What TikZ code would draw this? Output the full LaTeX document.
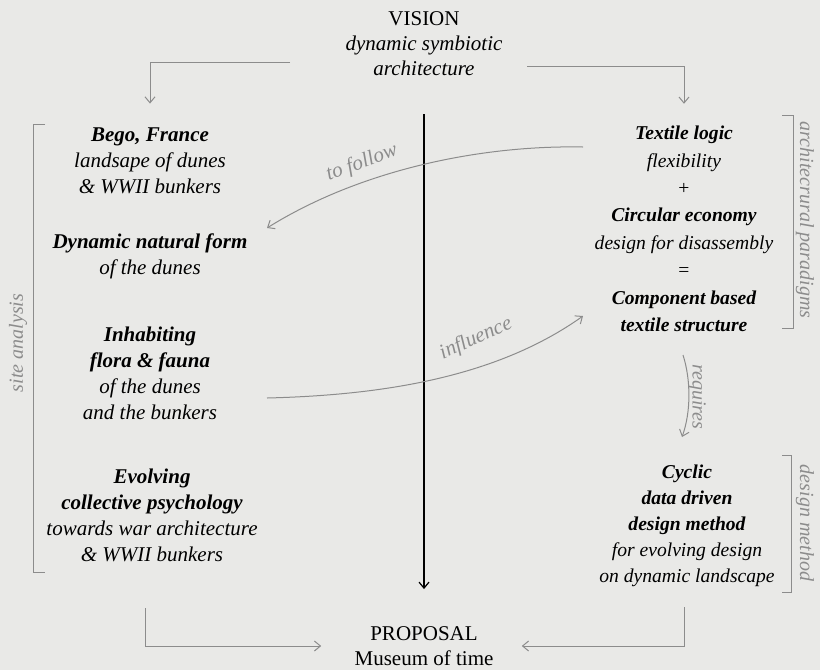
\documentclass[tikz,border=0pt]{standalone}
\usepackage{fontspec}
\setmainfont{Liberation Serif}
\usetikzlibrary{positioning}
\usetikzlibrary{arrows.meta}
\tikzset{>={Straight Barb[length=3pt,width=5pt]}}
\definecolor{paper}{RGB}{233,233,231}
\definecolor{pencil}{RGB}{140,140,140}
\tikzset{
  block/.style={align=center,font=\fontsize{10.5}{13}\selectfont\itshape,inner sep=2pt},
  narrow/.style={block,font=\fontsize{9.8}{13}\selectfont\itshape},
  plain/.style={align=center,font=\fontsize{10.5}{12.5}\selectfont,inner sep=2pt},
  link/.style={draw=pencil,line width=0.5pt},
  tag/.style={text=pencil,font=\fontsize{10}{12}\selectfont\itshape,inner sep=1pt}
}

\begin{document}
\begin{tikzpicture}[x=0.5pt,y=-0.5pt]
	\fill[paper] (0,0) rectangle (820,670);
	\useasboundingbox (0,0) rectangle (820,670);
	% vision and proposal
	\node[plain] (vision) at (424,44) {VISION\\\textit{dynamic symbiotic}\\\textit{architecture}};
	\node[plain] (proposal) at (424,646) {PROPOSAL\\Museum of time};
	% site analysis
	\node[block] (bego) at (150,161) {\textbf{Bego, France}\\landsape of dunes\\\& WWII bunkers};
	\node[block] (form) at (150,256) {\textbf{Dynamic natural form}\\of the dunes};
	\node[block] (flora) at (150,373) {\textbf{Inhabiting}\\\textbf{flora \& fauna}\\of the dunes\\and the bunkers};
	\node[block] (psych) at (152,515) {\textbf{Evolving}\\\textbf{collective psychology}\\towards war architecture\\\& WWII bunkers};
	% paradigms and method
	\node[narrow,font=\fontsize{9.8}{13.7}\selectfont\itshape] (textile) at (684,229) {\textbf{Textile logic}\\flexibility\\{\upshape+}\\\textbf{Circular economy}\\design for disassembly\\{\upshape=}\\\textbf{Component based}\\\textbf{textile structure}};
	\node[narrow] (method) at (687,526) {\textbf{Cyclic}\\\textbf{data driven}\\\textbf{design method}\\for evolving design\\on dynamic landscape};
	% brackets
	\draw[link] (45,124) -- (33,124) -- (33,572) -- (45,572);
	\node[tag,rotate=90] (site) at (18,343) {site analysis};
	\draw[link] (782,115) -- (793,115) -- (793,328) -- (782,328);
	\node[tag,rotate=-90] (para) at (805,220) {architecrural paradigms};
	\draw[link] (782,455) -- (791,455) -- (791,592) -- (782,592);
	\node[tag,rotate=-90] (dm) at (805,523) {design method};
	% connectors
	\coordinate (vl) at (290,62);
	\coordinate (vr) at (527,66);
	\coordinate (bl) at (145,608);
	\coordinate (br) at (684,607);
	\coordinate (fs) at (583,147);
	\coordinate (fe) at (267,228);
	\coordinate (is) at (267,398);
	\coordinate (ie) at (583,316);
	\coordinate (rs) at (683,355);
	\coordinate (re) at (682,437);
	\draw[link,->,shorten >=10pt] (vl) -| (bego.north);
	\draw[link,->,shorten >=9pt] (vr) -| (textile.north);
	\draw[->,line width=0.6pt,shorten <=17pt,shorten >=16.5pt] (vision) -- (proposal);
	\draw[link,->,shorten >=14.5pt] (bl) |- (proposal.west);
	\draw[link,->,shorten >=12pt] (br) |- (proposal.east);
	\draw[link,->] (fs) .. controls (480,145) and (360,170) .. (fe);
	\node[tag,font=\fontsize{10.5}{13}\selectfont\itshape,rotate=20] (follow) at (362,163) {to follow};
	\draw[link,->] (is) .. controls (390,395) and (500,375) .. (ie);
	\node[tag,font=\fontsize{10.5}{13}\selectfont\itshape,rotate=24] (influ) at (476,339) {influence};
	\draw[link,->] (rs) .. controls (691,380) and (691,412) .. (re);
	\node[tag,rotate=-90] (req) at (697,397) {requires};
\end{tikzpicture}
\end{document}
